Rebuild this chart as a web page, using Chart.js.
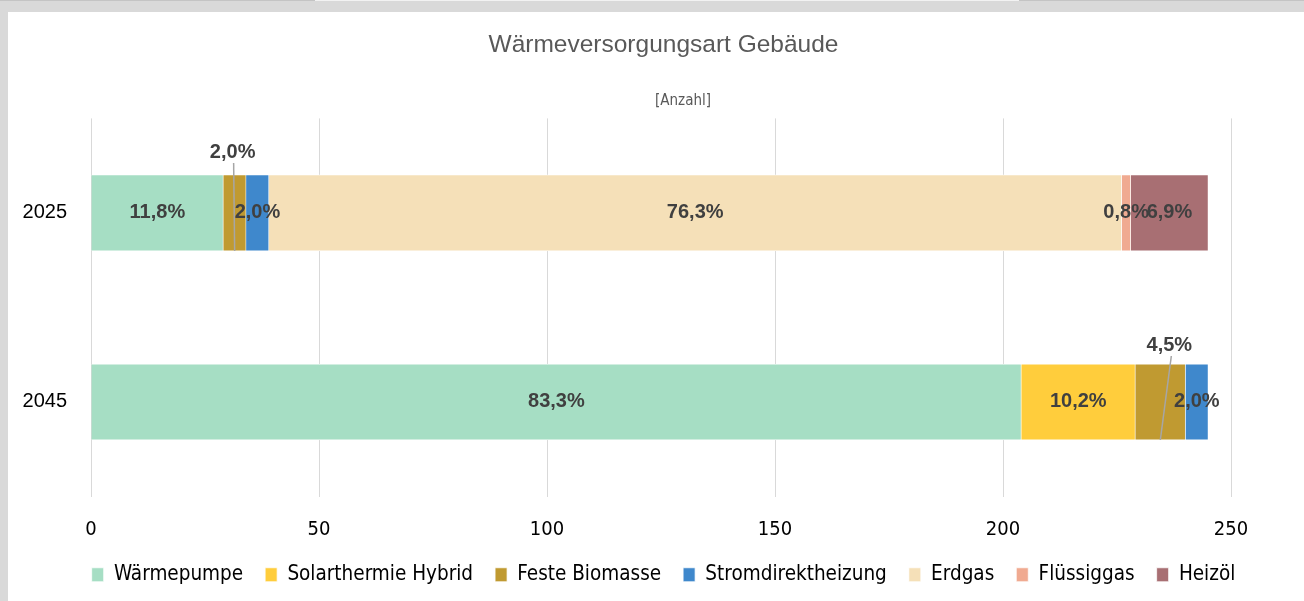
<!DOCTYPE html>
<html>
<head>
<meta charset="utf-8">
<script src="https://cdnjs.cloudflare.com/ajax/libs/Chart.js/4.4.0/chart.umd.min.js"></script>
<style>
  html, body { margin: 0; padding: 0; }
  body { width: 1304px; height: 601px; background: #d9d9d9; position: relative; overflow: hidden; }
  .edge { position: absolute; top: 0; height: 1px; background: #c4c4c4; }
  .edge.mid { background: #f2f2f2; }
  #frame { position: absolute; left: 8px; top: 12px; width: 1296px; height: 589px; background: #fff; }
</style>
</head>
<body>
<div class="edge" style="left:0;width:315px"></div>
<div class="edge mid" style="left:315px;width:704px"></div>
<div class="edge" style="left:1019px;width:285px"></div>
<div id="frame"><canvas id="myChart" width="1296" height="589"></canvas></div>

<script>
// Anzahl Gebäude je Wärmeversorgungsart
var years = ['2025', '2045'];
var waermepumpe   = [29, 204];
var solarthermie  = [0, 25];
var biomasse      = [5, 11];
var stromdirekt   = [5, 5];
var erdgas        = [187, 0];
var fluessiggas   = [2, 0];
var heizoel       = [17, 0];
var xTicks = [0, 50, 100, 150, 200, 250];

var narrow = "'Liberation Sans Narrow', 'DejaVu Sans Condensed', 'Liberation Sans', Arial, sans-serif";
var sans = "'Liberation Sans', Arial, sans-serif";

var series = [
  { label: 'Wärmepumpe',         data: waermepumpe,  color: '#a6dec4' },
  { label: 'Solarthermie Hybrid', data: solarthermie, color: '#ffcd3c' },
  { label: 'Feste Biomasse',     data: biomasse,     color: '#c09a31' },
  { label: 'Stromdirektheizung', data: stromdirekt,  color: '#3f88cc' },
  { label: 'Erdgas',             data: erdgas,       color: '#f5e0b8' },
  { label: 'Flüssiggas',         data: fluessiggas,  color: '#f0aa91' },
  { label: 'Heizöl',             data: heizoel,      color: '#a86f73' }
];

// Summe je Jahr für die Prozentangaben
var totals = years.map(function(_, i) {
  return series.reduce(function(s, d) { return s + d.data[i]; }, 0);
});

// Prozent-Beschriftungen in den Segmenten, kleine Segmente mit Führungslinie darüber
var percentLabels = {
  id: 'percentLabels',
  afterDatasetsDraw: function(chart, args, opts) {
    var ctx = chart.ctx;
    ctx.save();
    ctx.font = 'bold 20px ' + sans;
    ctx.fillStyle = '#404040';
    ctx.textAlign = 'center';
    ctx.textBaseline = 'middle';
    chart.data.datasets.forEach(function(ds, di) {
      var meta = chart.getDatasetMeta(di);
      meta.data.forEach(function(bar, i) {
        var v = ds.data[i];
        if (!v) return;
        var txt = (v / totals[i] * 100).toFixed(1).replace('.', ',') + '%';
        var cx = (bar.x + bar.base) / 2;
        var out = opts.outside.find(function(o) { return o.ds === di && o.idx === i; });
        if (out) {
          var top = bar.y - bar.height / 2;
          var bottom = bar.y + bar.height / 2;
          var lx = cx + out.dx;
          var ly = top - out.dy;
          ctx.fillText(txt, lx, ly);
          ctx.strokeStyle = '#a6a6a6';
          ctx.lineWidth = 1.5;
          ctx.beginPath();
          ctx.moveTo(lx + out.lineDx, ly + 10);
          ctx.lineTo(cx, bottom);
          ctx.stroke();
        } else {
          ctx.fillText(txt, cx, bar.y);
        }
      });
    });
    ctx.restore();
  }
};

// Einheit unter dem Titel
var unitLabel = {
  id: 'unitLabel',
  afterDraw: function(chart, args, opts) {
    var ctx = chart.ctx;
    var area = chart.chartArea;
    ctx.save();
    ctx.font = '15px ' + narrow;
    ctx.fillStyle = '#595959';
    ctx.textAlign = 'center';
    ctx.textBaseline = 'middle';
    ctx.fillText(opts.text, (area.left + area.right) / 2 + opts.dx, area.top - opts.dy);
    ctx.restore();
  }
};

var ctx = document.getElementById('myChart').getContext('2d');
var myChart = new Chart(ctx, {
  type: 'bar',
  data: {
    labels: years,
    datasets: series.map(function(s) {
      return {
        label: s.label,
        data: s.data,
        backgroundColor: s.color,
        borderColor: '#ffffff',
        borderWidth: 0.75,
        barThickness: 76
      };
    })
  },
  options: {
    indexAxis: 'y',
    responsive: false,
    animation: false,
    layout: { padding: { left: 15, right: 0, top: 0, bottom: 6 } },
    scales: {
      x: {
        stacked: true,
        min: 0,
        max: 250,
        afterBuildTicks: function(scale) {
          scale.ticks = xTicks.map(function(v) { return { value: v }; });
        },
        afterFit: function(scale) {
          scale.height -= 20;
          scale.paddingRight = 73;
        },
        grid: { color: '#d9d9d9', lineWidth: 1, drawTicks: false },
        border: { display: false },
        ticks: { color: '#000', padding: 21, font: { family: narrow, size: 20 } }
      },
      y: {
        stacked: true,
        grid: { display: false, drawTicks: false },
        border: { display: false },
        ticks: { color: '#000', padding: 24, font: { family: sans, size: 20 } },
        afterFit: function(scale) { scale.width = 68; }
      }
    },
    plugins: {
      title: {
        display: true,
        text: 'Wärmeversorgungsart Gebäude',
        color: '#595959',
        font: { family: sans, size: 24.5, weight: 'normal' },
        padding: { top: 19, bottom: 58 }
      },
      legend: {
        position: 'bottom',
        labels: {
          color: '#000',
          boxWidth: 12,
          boxHeight: 14,
          padding: 22,
          font: { family: narrow, size: 20.5 }
        }
      },
      tooltip: { enabled: false },
      unitLabel: { text: '[Anzahl]', dx: 22, dy: 17 },
      percentLabels: {
        outside: [
          { ds: 2, idx: 0, dx: -2, dy: 22, lineDx: 1 },
          { ds: 2, idx: 1, dx: 9, dy: 18, lineDx: 2 }
        ]
      }
    }
  },
  plugins: [percentLabels, unitLabel]
});
</script>
</body>
</html>
